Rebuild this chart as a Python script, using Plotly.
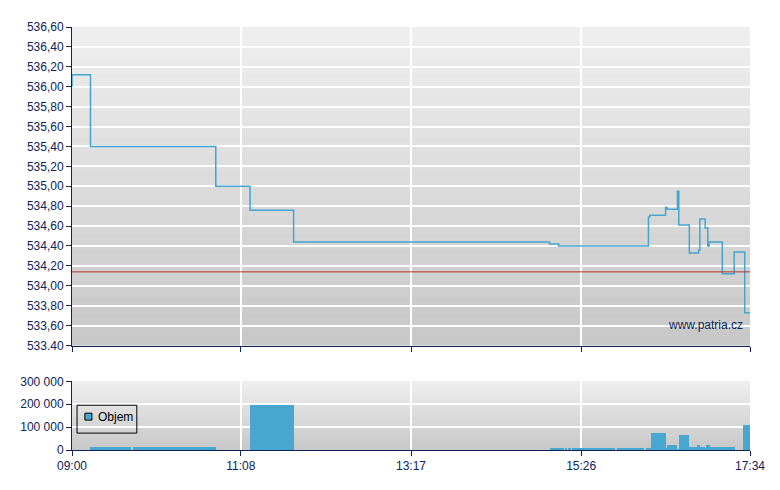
import plotly.graph_objects as go
from plotly.subplots import make_subplots

# ---------------- data ----------------
price_times = ["09:00", "09:00", "09:14", "10:49", "11:15", "11:48", "15:02", "15:09",
               "16:17", "16:18", "16:30", "16:31", "16:39", "16:40", "16:48", "16:55",
               "16:56", "17:00", "17:02", "17:03", "17:13", "17:22", "17:30", "17:34"]
price_values = [536.00, 536.12, 535.40, 535.00, 534.76, 534.44, 534.42, 534.40,
                534.69, 534.71, 534.79, 534.77, 534.95, 534.61, 534.33, 534.36,
                534.67, 534.58, 534.40, 534.44, 534.12, 534.34, 533.73, 533.73]
prev_close = 534.14

vol_start = ["09:14", "09:46", "11:15", "15:02", "15:09", "15:14", "15:16", "15:19",
             "15:53", "16:15", "16:19", "16:30", "16:31", "16:39", "16:40", "16:48",
             "16:54", "16:56", "17:00", "17:01", "17:04", "17:29"]
vol_end = ["09:45", "10:49", "11:48", "15:09", "15:13", "15:15", "15:18", "15:52",
           "16:14", "16:19", "16:30", "16:31", "16:39", "16:40", "16:48", "16:54",
           "16:56", "17:00", "17:01", "17:04", "17:23", "17:34"]
vol_values = [12000, 12000, 197000, 4000, 8000, 8000, 8000, 8000,
              8000, 8000, 71000, 8000, 22000, 3000, 65000, 13000,
              19000, 13000, 5000, 22000, 13000, 109000]
vol_name = "Objem"

x_tick_labels = ["09:00", "11:08", "13:17", "15:26", "17:34"]
price_ticks = [533.4, 533.6, 533.8, 534.0, 534.2, 534.4, 534.6, 534.8, 535.0,
               535.2, 535.4, 535.6, 535.8, 536.0, 536.2, 536.4, 536.6]
price_tick_text = ["533.40", "533,60", "533,80", "534,00", "534,20", "534,40", "534,60",
                   "534,80", "535,00", "535,20", "535,40", "535,60", "535,80", "536,00",
                   "536,20", "536,40", "536,60"]
vol_ticks = [0, 100000, 200000, 300000]
vol_tick_text = ["0", "100 000", "200 000", "300 000"]


def mins(t):
    h, m = t.split(":")
    return (int(h) - 9) * 60 + int(m)


NAVY = "#0c2457"
LINE = "#45a5d0"
BAR = "#47a7cf"
FONT = "Liberation Sans"

px = [mins(t) for t in price_times]
x0 = mins(x_tick_labels[0])
x1 = mins(x_tick_labels[-1])
xtv = [mins(t) for t in x_tick_labels]

fig = make_subplots(rows=2, cols=1, shared_xaxes=False, vertical_spacing=0.0)

fig.add_trace(go.Scatter(x=px, y=price_values, mode="lines", line=dict(color=LINE, width=1.5, shape="hv"),
                         showlegend=False, hoverinfo="skip"), row=1, col=1)
fig.add_trace(go.Scatter(x=[x0, x1], y=[prev_close, prev_close], mode="lines",
                         line=dict(color="#b0342c", width=1), showlegend=False, hoverinfo="skip"),
              row=1, col=1)

vs = [mins(t) for t in vol_start]
ve = [mins(t) for t in vol_end]
fig.add_trace(go.Bar(x=vs, y=vol_values, width=[e - s for s, e in zip(vs, ve)], offset=0,
                     marker=dict(color=BAR, line=dict(width=0)), name=vol_name, showlegend=False),
              row=2, col=1)

# gradient backgrounds (overlapping bands so no seams show)
shapes = []
top_c = (0xef, 0xef, 0xef)
bot_c = (0xc7, 0xc7, 0xc7)
for xr, yr, N, ov in (("x domain", "y domain", 40, 0.006), ("x2 domain", "y2 domain", 23, 0.025)):
    for i in range(N):
        f = (i + 0.5) / N
        c = tuple(round(bot_c[k] + (top_c[k] - bot_c[k]) * f) for k in range(3))
        shapes.append(dict(type="rect", xref=xr, yref=yr, x0=0, x1=1, y0=i / N,
                           y1=min(1.0, (i + 1) / N + ov),
                           fillcolor="rgb(%d,%d,%d)" % c, line=dict(width=0), layer="below"))

# legend box drawn by hand (small, as in the reference)
shapes.append(dict(type="rect", xref="x2 domain", yref="y2 domain", x0=0.0074, x1=0.0956,
                   y0=0.246, y1=0.652, line=dict(color="#000000", width=1), fillcolor="rgba(0,0,0,0)",
                   layer="above"))
shapes.append(dict(type="rect", xref="x2 domain", yref="y2 domain", x0=0.019, x1=0.0294,
                   y0=0.435, y1=0.536, line=dict(color="#000000", width=1), fillcolor=BAR,
                   layer="above"))

fig.update_layout(
    width=772, height=482,
    margin=dict(l=62, r=30, t=17, b=40),
    paper_bgcolor="white", plot_bgcolor="#dbdbdb",
    shapes=shapes,
    font=dict(family=FONT, size=12, color=NAVY),
    bargap=0,
    showlegend=False,
    annotations=[
        dict(text="www.patria.cz", xref="x", yref="y domain", x=x1 - 4, y=0.035,
             xanchor="right", yanchor="bottom", showarrow=False,
             font=dict(family=FONT, size=12, color=NAVY)),
        dict(text=vol_name, xref="x2 domain", yref="y2 domain", x=0.0355, y=0.475,
             xanchor="left", yanchor="middle", showarrow=False,
             font=dict(family=FONT, size=12, color="#000000")),
    ],
)

common_x = dict(range=[x0, x1], tickvals=xtv, ticktext=x_tick_labels, showgrid=True, gridcolor="white",
                gridwidth=1.5, showline=True, linecolor=NAVY, linewidth=1, ticks="outside", ticklen=5,
                tickcolor=NAVY, zeroline=False)
fig.update_xaxes(**common_x, showticklabels=False, domain=[0, 1], row=1, col=1)
fig.update_xaxes(**common_x, showticklabels=True, domain=[0, 1], row=2, col=1)

common_y = dict(showgrid=True, gridcolor="white", gridwidth=1.5, showline=True, linecolor=NAVY,
                linewidth=1, ticks="outside", ticklen=5, tickcolor=NAVY, zeroline=False)
fig.update_yaxes(**common_y, range=[533.4, 536.6], tickvals=price_ticks, ticktext=price_tick_text,
                 domain=[0.247, 1.0], row=1, col=1)
fig.update_yaxes(**common_y, range=[0, 300000], tickvals=vol_ticks, ticktext=vol_tick_text,
                 domain=[0.0, 0.1624], row=2, col=1)

fig.write_html("out.html")
